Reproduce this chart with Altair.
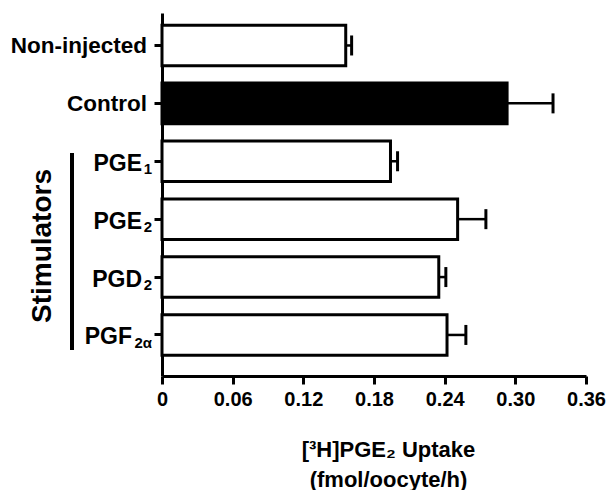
import altair as alt
import pandas as pd

categories = ["Non-injected", "Control", "PGE1", "PGE2", "PGD2", "PGF2a"]
label_base = ["Non-injected", "Control", "PGE", "PGE", "PGD", "PGF"]
label_sub = ["", "", "1", "2", "2", "2α"]
uptake = [0.156, 0.293, 0.194, 0.251, 0.235, 0.242]
sem = [0.005, 0.039, 0.006, 0.024, 0.006, 0.016]
x_ticks = [0, 0.06, 0.12, 0.18, 0.24, 0.30, 0.36]
x_title = ["[³H]PGE₂ Uptake", "(fmol/oocyte/h)"]
group_label = ["Stimulators"]

df = pd.DataFrame({"cat": categories, "base": label_base, "sub": label_sub,
                   "uptake": uptake, "sem": sem})
df["hi"] = df["uptake"] + df["sem"]

FONT = "Liberation Sans"
ysc = alt.Scale(paddingInner=0.3, paddingOuter=0.285, align=0.37, round=False)
y_axis = alt.Axis(labels=False, title=None, grid=False,
                  domainColor="black", domainWidth=3,
                  tickColor="black", tickWidth=3, tickSize=8)
y_enc = alt.Y("cat:N", sort=categories, scale=ysc, axis=y_axis)

base = alt.Chart(df)

bars = base.mark_bar(stroke="black", strokeWidth=3).encode(
    x=alt.X("uptake:Q",
            scale=alt.Scale(domain=[0, 0.36], nice=False, zero=True),
            axis=alt.Axis(values=x_ticks,
                          labelExpr="datum.value == 0 ? '0' : format(datum.value, '.2f')",
                          title=x_title, grid=False, labelFlush=False,
                          domainColor="black", domainWidth=3,
                          tickColor="black", tickWidth=3, tickSize=8,
                          labelFont=FONT, labelFontSize=20, labelFontWeight="bold",
                          labelColor="black", labelPadding=5,
                          titleFont=FONT, titleFontSize=22, titleFontWeight="bold",
                          titleColor="black", titlePadding=30, titleLineHeight=30,
                          titleX=226)),
    y=y_enc,
    fill=alt.condition(alt.datum.cat == "Control", alt.value("black"), alt.value("white")),
)

err_line = base.mark_rule(color="black", strokeWidth=2.5).encode(
    x="uptake:Q", x2="hi:Q", y=y_enc)
err_cap = base.mark_tick(color="black", size=20, thickness=3, opacity=1).encode(
    x="hi:Q", y=y_enc)

txt = dict(font=FONT, fontWeight="bold", color="black", baseline="middle", align="right")
lab0 = base.transform_filter("length(datum.sub) == 0").mark_text(
    fontSize=22.5, dy=1, **txt).encode(x=alt.value(-15), y=y_enc, text="base:N")
lab1 = base.transform_filter("length(datum.sub) == 1").mark_text(
    fontSize=23, dy=2.5, **txt).encode(x=alt.value(-20), y=y_enc, text="base:N")
lab2 = base.transform_filter("length(datum.sub) == 2").mark_text(
    fontSize=23, dy=2.5, **txt).encode(x=alt.value(-30), y=y_enc, text="base:N")
subs = base.transform_filter("length(datum.sub) > 0").mark_text(
    fontSize=15, dy=8, **txt).encode(x=alt.value(-10), y=y_enc, text="sub:N")

ann = alt.Chart(pd.DataFrame({"note": group_label}))
bracket = ann.mark_rule(color="black", strokeWidth=4).encode(
    x=alt.value(-90), y=alt.value(140), y2=alt.value(337))
stim = ann.mark_text(font=FONT, fontWeight="bold", fontSize=28, angle=270,
                     align="center", baseline="middle", color="black").encode(
    x=alt.value(-119), y=alt.value(233), text="note:N")

chart = alt.layer(bars, err_line, err_cap, lab0, lab1, lab2, subs, bracket, stim).properties(
    width=424, height=363,
    padding={"left": 154, "top": 5, "right": 21, "bottom": 114},
    autosize="none",
).configure_view(stroke=None)

chart.save("out.html", embed_options={"renderer": "svg", "actions": False})
